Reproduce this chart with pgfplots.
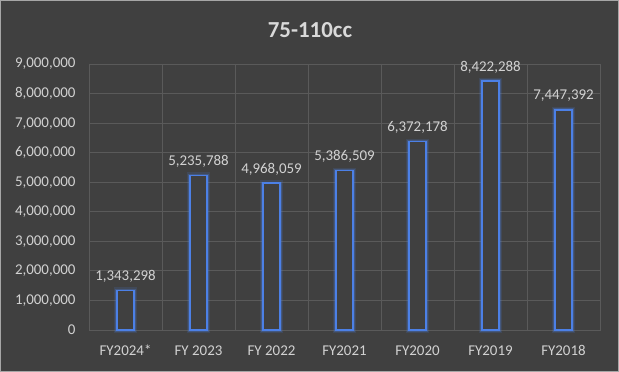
\documentclass[border=0pt]{standalone}
\usepackage{pgfplots}
\pgfplotsset{compat=1.18}
\usepackage{pgfplotstable}
\usepackage{fontspec}
\setmainfont{Carlito}
\definecolor{bg}{HTML}{404040}
\definecolor{gridc}{HTML}{5A5A5A}
\definecolor{txt}{HTML}{D2D2D2}
\definecolor{ttl}{HTML}{D9D9D9}
\definecolor{barc}{HTML}{4C80E6}

\pgfplotstableread{
x y lab
0 1343298 1,343,298
1 5235788 5,235,788
2 4968059 4,968,059
3 5386509 5,386,509
4 6372178 6,372,178
5 8422288 8,422,288
6 7447392 7,447,392
}\data

\begin{document}
\begin{tikzpicture}
\fill[bg] (0,0) rectangle (619bp,372bp);
\draw[gray!70, line width=1bp] (0.5bp,0.5bp) rectangle (618.5bp,371.5bp);
\node[text=ttl, font=\fontsize{23}{27}\selectfont\bfseries] at (310bp,342bp) {75-110cc};
\begin{axis}[
  at={(89bp,42bp)}, anchor=south west,
  scale only axis, width=511bp, height=266bp,
  xmin=-0.5, xmax=6.5, ymin=0, ymax=9000000,
  xtick={0,...,6},
  xticklabels={FY2024*, FY 2023, FY 2022, FY2021, FY2020, FY2019, FY2018},
  minor xtick={-0.5,0.5,...,6.5},
  xminorgrids=true, xmajorgrids=false, ymajorgrids=true,
  ytick={0,1000000,2000000,3000000,4000000,5000000,6000000,7000000,8000000,9000000},
  scaled y ticks=false,
  yticklabel style={xshift=-10bp, /pgf/number format/fixed, /pgf/number format/1000 sep={,}},
  /pgf/number format/assume math mode=true,
  major tick length=0pt, minor tick length=0pt,
  axis line style={gridc, line width=0.8bp},
  grid style={gridc, line width=0.8bp},
  minor grid style={gridc, line width=0.8bp},
  tick label style={text=txt, font=\fontsize{15}{18}\selectfont},
  xticklabel style={anchor=base, yshift=-25bp},
  clip=false,
]
\addplot[ybar, bar width=17bp, bar shift=0pt, draw=barc, draw opacity=0.15, line width=6bp, fill=none] table[x=x, y=y] {\data};
\addplot[ybar, bar width=17bp, bar shift=0pt, draw=barc, draw opacity=0.28, line width=3.2bp, fill=none] table[x=x, y=y] {\data};
\addplot[ybar, bar width=17bp, bar shift=0pt, draw=barc, line width=1.4bp, fill=bg,
  point meta=explicit symbolic,
  nodes near coords={\pgfplotspointmeta},
  every node near coord/.append style={anchor=base, yshift=10bp, text=txt, font=\fontsize{15}{18}\selectfont},
] table[x=x, y=y, meta=lab] {\data};
\end{axis}
\end{tikzpicture}
\end{document}
